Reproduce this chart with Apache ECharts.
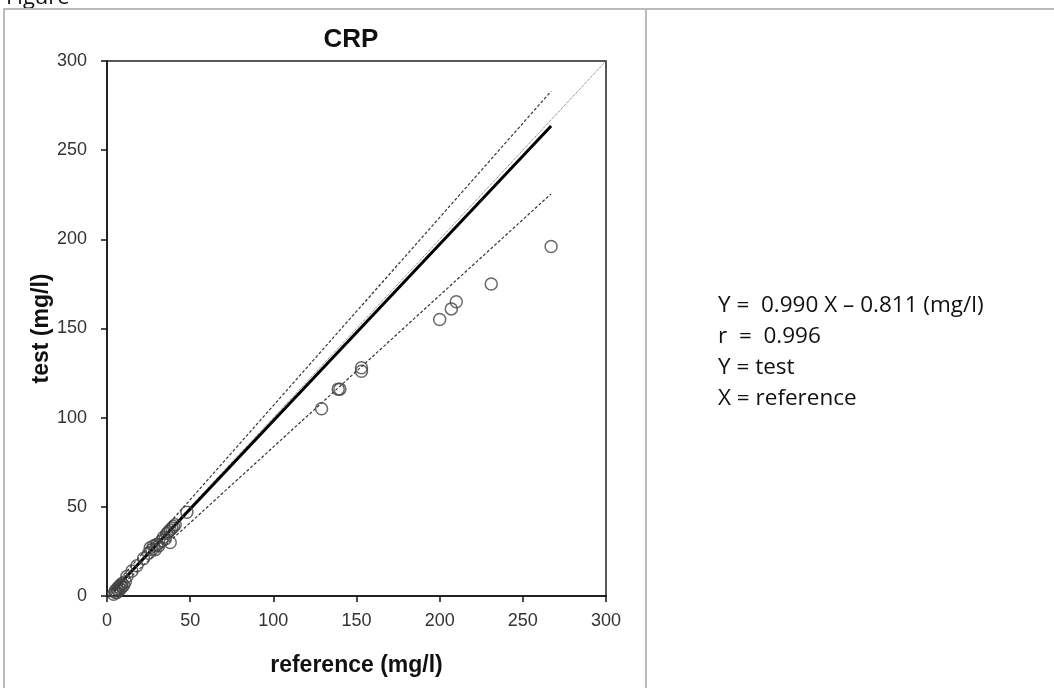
<!DOCTYPE html>
<html>
<head>
<meta charset="utf-8">
<script src="https://cdn.jsdelivr.net/npm/echarts@6/dist/echarts.min.js"></script>
<style>
  html, body { margin: 0; padding: 0; background: #fff; }
  #main { width: 1054px; height: 688px; }
</style>
</head>
<body>
<div id="main"></div>
<script>
// measured pairs: reference (x) vs test (y), mg/l
const refVals = [4, 5, 5, 6, 6, 7, 7, 8, 8, 9, 9, 10, 11, 12, 15, 18, 22, 25, 26, 27, 28, 29, 30, 31, 33, 34, 35, 36, 37, 38, 38, 39, 40, 41, 48,
                 129, 139, 140, 153, 153, 200, 207, 210, 231, 267];
const testVals = [1, 2, 3, 2, 4, 3, 5, 4, 6, 5, 7, 6, 8, 11, 14, 17, 21, 24, 27, 26, 28, 26, 29, 28, 31, 33, 32, 35, 36, 37, 30, 38, 39, 40, 47,
                  105, 116, 116, 126, 128, 155, 161, 165, 175, 196];
// fitted line Y = 0.990 X - 0.811 and its band, end points
const fitLine = [[4, 3.2], [267, 263.5]];
const upperBand = [[4, 5.5], [267, 283]];
const lowerBand = [[4, 2], [267, 225.5]];
const identity = [[0, 0], [300, 300]];
const axisTicks = { min: 0, max: 300, step: 50 };
const notes = ['Y =  0.990 X \u2013 0.811 (mg/l)', 'r  =  0.996', 'Y = test', 'X = reference'];

const points = refVals.map((x, i) => [x, testVals[i]]);

const chart = echarts.init(document.getElementById('main'));

const axisCommon = {
    type: 'value',
    min: axisTicks.min,
    max: axisTicks.max,
    interval: axisTicks.step,
    nameLocation: 'middle',
    nameTextStyle: { fontFamily: 'Arial', fontWeight: 'bold', fontSize: 23, color: '#111' },
    axisLine: { show: true, onZero: false, lineStyle: { color: '#111', width: 1.5 } },
    axisTick: { show: true, length: 6, lineStyle: { color: '#111', width: 1.5 } },
    splitLine: { show: false }
};
const labelStyle = { fontFamily: 'Arial', fontSize: 18, color: '#333' };

const option = {
    backgroundColor: '#fff',
    animation: false,
    title: {
        text: 'CRP',
        left: 346,
        top: 22,
        textAlign: 'center',
        textStyle: { fontFamily: 'Arial', fontWeight: 'bold', fontSize: 26, color: '#111' }
    },
    grid: {
        left: 107, top: 61, width: 499, height: 535,
        show: true, borderColor: '#222', borderWidth: 1.5, backgroundColor: '#fff'
    },
    xAxis: Object.assign({}, axisCommon, {
        name: 'reference (mg/l)', nameGap: 58,
        axisLabel: Object.assign({ margin: 16 }, labelStyle)
    }),
    yAxis: Object.assign({}, axisCommon, {
        name: 'test (mg/l)', nameGap: 36,
        axisLabel: Object.assign({ margin: 20 }, labelStyle)
    }),
    graphic: [
        { type: 'rect', shape: { x: 4, y: 9, width: 1060, height: 690 }, style: { fill: 'none', stroke: '#bbb', lineWidth: 2 }, silent: true },
        { type: 'line', shape: { x1: 646, y1: 9, x2: 646, y2: 688 }, style: { stroke: '#bbb', lineWidth: 2 }, silent: true },
        { type: 'text', left: 6, top: -13, style: { text: 'Figure', font: '22px "Open Sans"', fill: '#111' }, silent: true, z: -1 },
        {
            type: 'text', left: 718, top: 290,
            style: { text: notes.join('\n'), font: '22.5px "Open Sans"', lineHeight: 31, fill: '#111' },
            silent: true
        }
    ],
    series: [
        {
            type: 'line', data: identity, symbol: 'none', silent: true,
            lineStyle: { color: '#666', width: 1, type: 'dotted' }, z: 1
        },
        {
            type: 'line', data: upperBand, symbol: 'none', silent: true,
            lineStyle: { color: '#333', width: 1.2, type: [3, 2] }, z: 2
        },
        {
            type: 'line', data: lowerBand, symbol: 'none', silent: true,
            lineStyle: { color: '#333', width: 1.2, type: [3, 2] }, z: 2
        },
        {
            type: 'line', data: fitLine, symbol: 'none', silent: true,
            lineStyle: { color: '#000', width: 3 }, z: 3
        },
        {
            type: 'scatter', data: points, symbol: 'circle', symbolSize: 12,
            itemStyle: { color: 'rgba(0,0,0,0)', borderColor: '#444', borderWidth: 1.5 }, z: 4
        }
    ]
};

chart.setOption(option);
</script>
</body>
</html>
